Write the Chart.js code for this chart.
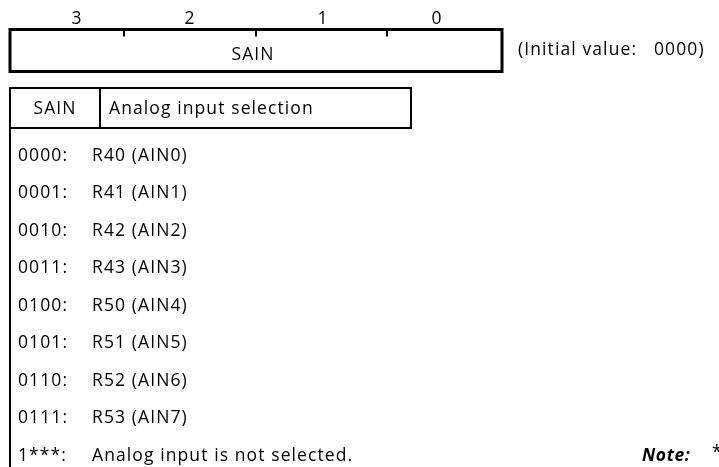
<!DOCTYPE html>
<html>
<head>
<meta charset="utf-8">
<script src="https://cdn.jsdelivr.net/npm/chart.js@4"></script>
<style>
  body { margin: 0; background: #fff; }
  #quadro { display: block; }
</style>
</head>
<body>
<canvas id="quadro" width="719" height="467"></canvas>
<script>
// dados do registrador
const bitLabels = ["3", "2", "1", "0"];
const nomeRegistrador = "SAIN";
const valorInicial = "0000";
const cabecalhos = ["SAIN", "Analog input selection"];
const codigos = ["0000:", "0001:", "0010:", "0011:", "0100:", "0101:", "0110:", "0111:", "1***:"];
const selecoes = [
  "R40 (AIN0)",
  "R41 (AIN1)",
  "R42 (AIN2)",
  "R43 (AIN3)",
  "R50 (AIN4)",
  "R51 (AIN5)",
  "R52 (AIN6)",
  "R53 (AIN7)",
  "Analog input is not selected.",
];

// layout (unidades das escalas = pixels do quadro)
const caixa = { esq: 10, dir: 502, topo: 29.5, base: 71.5 };
const marcasBits = [124, 256, 387];
const posBits = [77, 190, 323, 437];
const tabela = { esq: 10, dir: 411, topo: 88, cab: 128, divisor: 100, fim: 467 };
const linhaInicial = 156;
const passoLinha = 37.5;
const fonte = "500 17.5px 'Open Sans'";

const desenharRegistrador = {
  id: "desenharRegistrador",
  afterDraw(chart) {
    const ctx = chart.ctx;
    const x = chart.scales.x;
    const y = chart.scales.y;
    const px = (v) => x.getPixelForValue(v);
    const py = (v) => y.getPixelForValue(v);

    ctx.save();
    ctx.strokeStyle = "#000";
    ctx.fillStyle = "#000";
    ctx.font = fonte;
    ctx.letterSpacing = "1.1px";
    ctx.textBaseline = "middle";

    // caixa do registrador
    ctx.lineWidth = 3;
    ctx.strokeRect(px(caixa.esq), py(caixa.topo), px(caixa.dir) - px(caixa.esq), py(caixa.base) - py(caixa.topo));
    ctx.lineWidth = 2;
    marcasBits.forEach((m) => {
      ctx.beginPath();
      ctx.moveTo(px(m), py(caixa.topo));
      ctx.lineTo(px(m), py(caixa.topo + 7));
      ctx.stroke();
    });

    ctx.textAlign = "center";
    bitLabels.forEach((b, i) => ctx.fillText(b, px(posBits[i]), py(19)));
    ctx.fillText(nomeRegistrador, px(253), py(55));

    ctx.textAlign = "left";
    ctx.fillText("(Initial value:", px(518), py(50));
    ctx.fillText(valorInicial + ")", px(654), py(50));

    // tabela
    ctx.lineWidth = 2;
    ctx.beginPath();
    ctx.moveTo(px(tabela.esq), py(tabela.fim));
    ctx.lineTo(px(tabela.esq), py(tabela.topo));
    ctx.lineTo(px(tabela.dir), py(tabela.topo));
    ctx.lineTo(px(tabela.dir), py(tabela.cab));
    ctx.lineTo(px(tabela.esq), py(tabela.cab));
    ctx.moveTo(px(tabela.divisor), py(tabela.topo));
    ctx.lineTo(px(tabela.divisor), py(tabela.cab));
    ctx.stroke();

    ctx.textAlign = "center";
    ctx.fillText(cabecalhos[0], px(55), py(109));
    ctx.textAlign = "left";
    ctx.fillText(cabecalhos[1], px(109), py(109));

    codigos.forEach((c, i) => {
      const linha = linhaInicial + i * passoLinha;
      ctx.fillText(c, px(18), py(linha));
      ctx.fillText(selecoes[i], px(92), py(linha));
    });

    // nota
    ctx.font = "italic bold 17.5px 'Open Sans'";
    ctx.letterSpacing = "0.6px";
    ctx.fillText("Note:", px(642), py(linhaInicial + 8 * passoLinha));
    ctx.font = fonte;
    ctx.fillText("*", px(712), py(linhaInicial + 8 * passoLinha - 3));
    ctx.restore();
  },
};

function iniciarQuadro() {
  new Chart(document.getElementById("quadro"), {
    type: "scatter",
    data: { datasets: [{ data: [], pointRadius: 0 }] },
    options: {
      responsive: false,
      animation: false,
      devicePixelRatio: 1,
      layout: { padding: 0 },
      plugins: { legend: { display: false }, tooltip: { enabled: false } },
      scales: {
        x: { type: "linear", min: 0, max: 719, display: false },
        y: { type: "linear", min: 0, max: 467, reverse: true, display: false },
      },
    },
    plugins: [desenharRegistrador],
  });
}

Promise.all([
  document.fonts.load("500 17.5px 'Open Sans'"),
  document.fonts.load("italic bold 17.5px 'Open Sans'"),
])
  .catch(() => {})
  .then(iniciarQuadro);
</script>
</body>
</html>
